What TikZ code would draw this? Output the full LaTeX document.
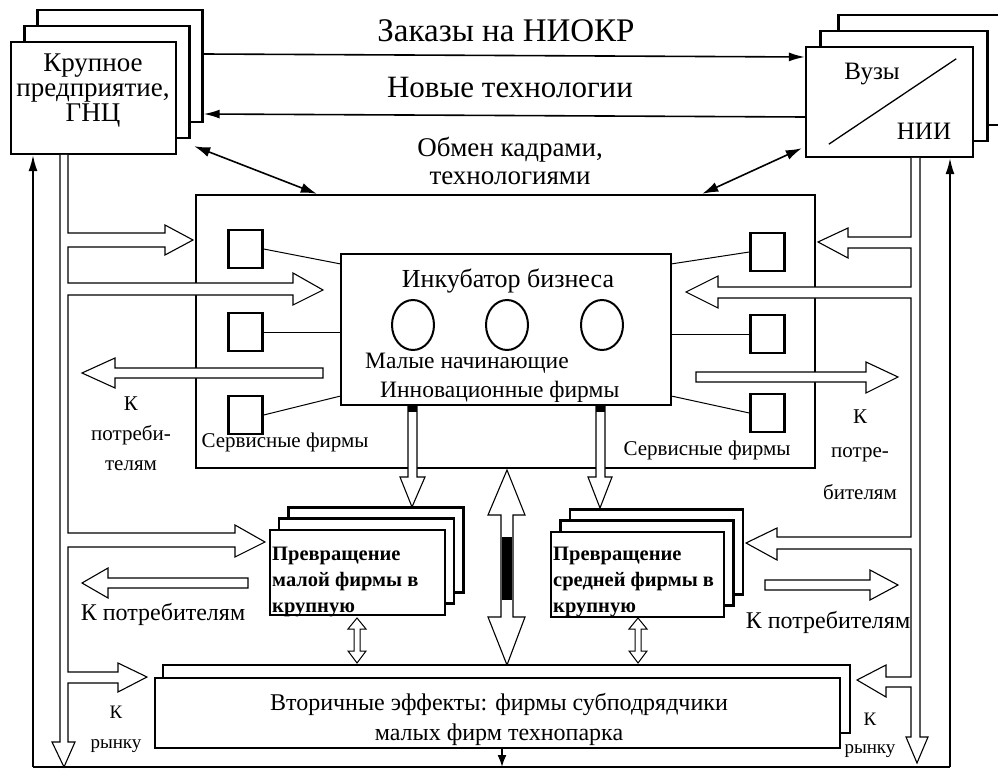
\documentclass[tikz,border=0pt]{standalone}
\usepackage{fontspec}
\setmainfont{Liberation Serif}
\usetikzlibrary{arrows.meta}

\begin{document}
\begin{tikzpicture}[x=1pt,y=-1pt,
  box/.style={draw,line width=2.4pt,fill=white,inner sep=0pt},
  sqr/.style={box,minimum width=34pt,minimum height=38pt},
  big/.style={box,minimum width=165pt,minimum height=112pt},
  uni/.style={box,minimum width=167pt,minimum height=110pt},
  stk/.style={box,minimum width=175pt,minimum height=85pt},
  blk/.style={draw,line width=1.1pt,fill=white,line join=miter},
  thn/.style={line width=1pt},
  lnk/.style={line width=1.6pt,-{Latex[length=16pt,width=9pt]}},
  dbl/.style={line width=1.6pt,{Latex[length=16pt,width=10pt]}-{Latex[length=16pt,width=10pt]}},
  t20/.style={font=\fontsize{21}{24}\selectfont,inner sep=0pt},
  t23/.style={font=\fontsize{23.5}{27}\selectfont,inner sep=0pt},
  prv/.style={font=\bfseries\fontsize{20.5}{26}\selectfont,inner sep=0pt,align=left,anchor=base west}]
  \useasboundingbox (0,0) rectangle (998,770);
  \clip (0,0) rectangle (998,770);

  \node[big] (gnc3) at (120,66) {};
  \node[big] (gnc2) at (107,82) {};
  \node[big] (gnc1) at (93.5,98) {};
  \node[font=\fontsize{27}{25}\selectfont,align=center,anchor=base] (gnctxt) at (93,122) {Крупное\\предприятие,\\ГНЦ};

  \node[uni] (vuz3) at (922,70) {};
  \node[uni] (vuz2) at (904,86) {};
  \node[uni] (vuz1) at (889.5,102) {};
  \draw[line width=1.3pt] ([xshift=24pt,yshift=14pt]vuz1.south west) -- ([xshift=-18pt,yshift=-13pt]vuz1.north east);
  \node[font=\fontsize{25}{28}\selectfont,anchor=base] (vuztxt) at (872,80) {Вузы};
  \node[font=\fontsize{25}{28}\selectfont,anchor=base] (niitxt) at (924,140) {НИИ};

  \draw[lnk] ([yshift=12pt]gnc3.east) -- ([yshift=45pt]vuz1.west);
  \draw[lnk] ([yshift=-15pt]vuz1.west) -- ([yshift=-48pt]gnc3.east);
  \node[font=\fontsize{33}{36}\selectfont,anchor=base] (zak) at (506,42) {Заказы на НИОКР};
  \node[font=\fontsize{31}{34}\selectfont,anchor=base] (nov) at (510,98) {Новые технологии};
  \node[font=\fontsize{27}{28}\selectfont,align=center,anchor=base] (obm) at (510,185) {Обмен кадрами,\\технологиями};

  \node[box,minimum width=619pt,minimum height=273pt] (park) at (505.5,331.5) {};
  \draw[dbl] ([xshift=17pt,yshift=9pt]gnc1.south east) -- ([xshift=122pt]park.north west);
  \draw[dbl] ([xshift=-3pt,yshift=10pt]vuz1.south west) -- ([xshift=-114pt]park.north east);

  \coordinate (bl) at (33,767);
  \coordinate (br) at (950,767);
  \draw[line width=1.8pt] (bl) -- (br);
  \draw[lnk] (bl) -- (bl |- gnc1.south);
  \draw[lnk] (br) -- (br |- vuz1.south);

  \draw[blk] (68,155) -- (68,233) -- (165,233) -- (165,225) -- (193,240) -- (165,255) -- (165,247) -- (68,247)
    -- (68,283) -- (293,283) -- (293,273) -- (323,290) -- (293,305) -- (293,295) -- (68,295)
    -- (68,533) -- (235,533) -- (235,525) -- (265,542) -- (235,557) -- (235,547) -- (68,547)
    -- (68,672) -- (118,672) -- (118,663) -- (147,677) -- (118,692) -- (118,683) -- (68,683)
    -- (68,742) -- (75,742) -- (64,767) -- (52,742) -- (60,742) -- (60,155);
  \draw[blk] (911,158) -- (911,237) -- (848,237) -- (848,228) -- (818,242) -- (848,258) -- (848,248) -- (911,248)
    -- (911,287) -- (718,287) -- (718,276) -- (686,292) -- (718,308) -- (718,298) -- (911,298)
    -- (911,537) -- (777,537) -- (777,528) -- (746,543) -- (777,560) -- (777,549) -- (911,549)
    -- (911,677) -- (886,677) -- (886,665) -- (857,680) -- (886,697) -- (886,687) -- (911,687)
    -- (911,737) -- (906,737) -- (917,763) -- (928,737) -- (920,737) -- (920,158);

  \draw[blk] (323,368) -- (115,368) -- (115,358) -- (82,373) -- (115,388) -- (115,378) -- (323,378) -- cycle;
  \draw[blk] (248,578) -- (108,578) -- (108,568) -- (82,583) -- (108,598) -- (108,588) -- (248,588) -- cycle;
  \draw[blk] (696,372) -- (866,372) -- (866,362) -- (898,377) -- (866,393) -- (866,382) -- (696,382) -- cycle;
  \draw[blk] (765,580) -- (870,580) -- (870,570) -- (898,585) -- (870,600) -- (870,590) -- (765,590) -- cycle;

  \node[font=\fontsize{21}{30}\selectfont,align=center,anchor=base,inner sep=0pt] (kpl) at (131,470) {К\\потреби-\\телям};
  \node[font=\fontsize{21}{34}\selectfont,align=center,anchor=base,inner sep=0pt] (kpr) at (860,457) {К\\потре-};
  \node[font=\fontsize{21}{34}\selectfont,anchor=base,inner sep=0pt] (kpr2) at (860,499) {бителям};
  \node[font=\fontsize{24}{27}\selectfont,anchor=base,inner sep=0pt] (kpl2) at (163,620) {К потребителям};
  \node[font=\fontsize{24}{27}\selectfont,anchor=base,inner sep=0pt] (kpr3) at (828,628) {К потребителям};
  \node[font=\fontsize{19}{30}\selectfont,align=center,anchor=base,inner sep=0pt] (krl) at (116,748) {К\\рынку};
  \node[font=\fontsize{19}{28}\selectfont,align=center,anchor=base,inner sep=0pt] (krr) at (870,753) {К\\рынку};

  \node[box,minimum width=330pt,minimum height=151pt] (inc) at (506,329.5) {};
  \node[sqr] (sl1) at (245.5,249) {};
  \node[sqr] (sl2) at (245.5,332) {};
  \node[sqr] (sl3) at (245.5,415) {};
  \node[sqr] (sr1) at (767.5,252) {};
  \node[sqr] (sr2) at (767.5,334) {};
  \node[sqr] (sr3) at (767.5,413) {};
  \draw[thn] (sl1.east) -- ([yshift=-11pt]inc.north west);
  \draw[thn] (sl2.east) -- (inc.west |- sl2.east);
  \draw[thn] (sl3.east) -- ([yshift=10pt]inc.south west);
  \draw[thn] (sr1.west) -- ([yshift=-11pt]inc.north east);
  \draw[thn] (sr2.west) -- (inc.east |- sr2.west);
  \draw[thn] (sr3.west) -- ([yshift=10pt]inc.south east);
  \node[t20,anchor=base] (servl) at (285,447) {Сервисные фирмы};
  \node[t20,anchor=base] (servr) at (707,455) {Сервисные фирмы};

  \node[font=\fontsize{26}{28}\selectfont,anchor=base,inner sep=0pt] (inctxt) at (508,287) {Инкубатор бизнеса};
  \coordinate (f1) at (413,325);
  \coordinate (f2) at (507,325);
  \coordinate (f3) at (602,325);
  \draw[line width=2pt] (f1) ellipse [x radius=21pt,y radius=25pt];
  \draw[line width=2pt] (f2) ellipse [x radius=21pt,y radius=25pt];
  \draw[line width=2pt] (f3) ellipse [x radius=21pt,y radius=25pt];
  \node[t23,anchor=base west] (mal) at (365,368) {Малые начинающие};
  \node[t23,anchor=base west] (inn) at (380,397) {Инновационные фирмы};

  \draw[blk] (408,406) -- (408,477) -- (400,477) -- (412,507) -- (425,477) -- (417,477) -- (417,406);
  \fill (408,405) rectangle (417,412);
  \draw[blk] (596,406) -- (596,477) -- (588,477) -- (600,508) -- (612,477) -- (605,477) -- (605,406);
  \fill (596,405) rectangle (605,412);

  \node[stk] (mal3) at (376,550) {};
  \node[stk] (mal2) at (366.5,561) {};
  \node[stk] (mal1) at (357.5,572.5) {};
  \node[prv] (maltxt) at (272,612) {Превращение\\малой фирмы в\\крупную};
  \node[stk,minimum width=173pt] (sre3) at (656.5,552) {};
  \node[stk,minimum width=173pt] (sre2) at (647,563) {};
  \node[stk,minimum width=173pt] (sre1) at (637.5,574.5) {};
  \node[prv] (sretxt) at (553,612) {Превращение\\средней фирмы в\\крупную};

  \draw[blk] (507,470) -- (525,515) -- (513,515) -- (513,617) -- (525,617) -- (507,665) -- (488,617) -- (501,617) -- (501,515) -- (488,515) -- cycle;
  \fill (502,537) rectangle (512,600);

  \node[box,minimum width=687pt,minimum height=68pt] (sec2) at (506.5,699) {};
  \node[box,minimum width=685pt,minimum height=70pt] (sec1) at (497.5,713) {};
  \node[font=\fontsize{24}{30}\selectfont,align=center,anchor=base,inner sep=0pt] (sectxt) at (499,740) {Вторичные эффекты: фирмы субподрядчики\\малых фирм технопарка};

  \draw[blk,line width=1pt] (357,618) -- (366,629) -- (360,629) -- (360,651) -- (366,651) -- (357,663) -- (348,651) -- (354,651) -- (354,629) -- (348,629) -- cycle;
  \draw[blk,line width=1pt] (638,618) -- (647,629) -- (641,629) -- (641,651) -- (647,651) -- (638,663) -- (629,651) -- (635,651) -- (635,629) -- (629,629) -- cycle;

  \draw[line width=1.8pt,-{Latex[length=12pt,width=9pt]}] ([xshift=4.5pt]sec1.south) -- ([xshift=4.5pt]sec1.south |- bl);
\end{tikzpicture}
\end{document}
